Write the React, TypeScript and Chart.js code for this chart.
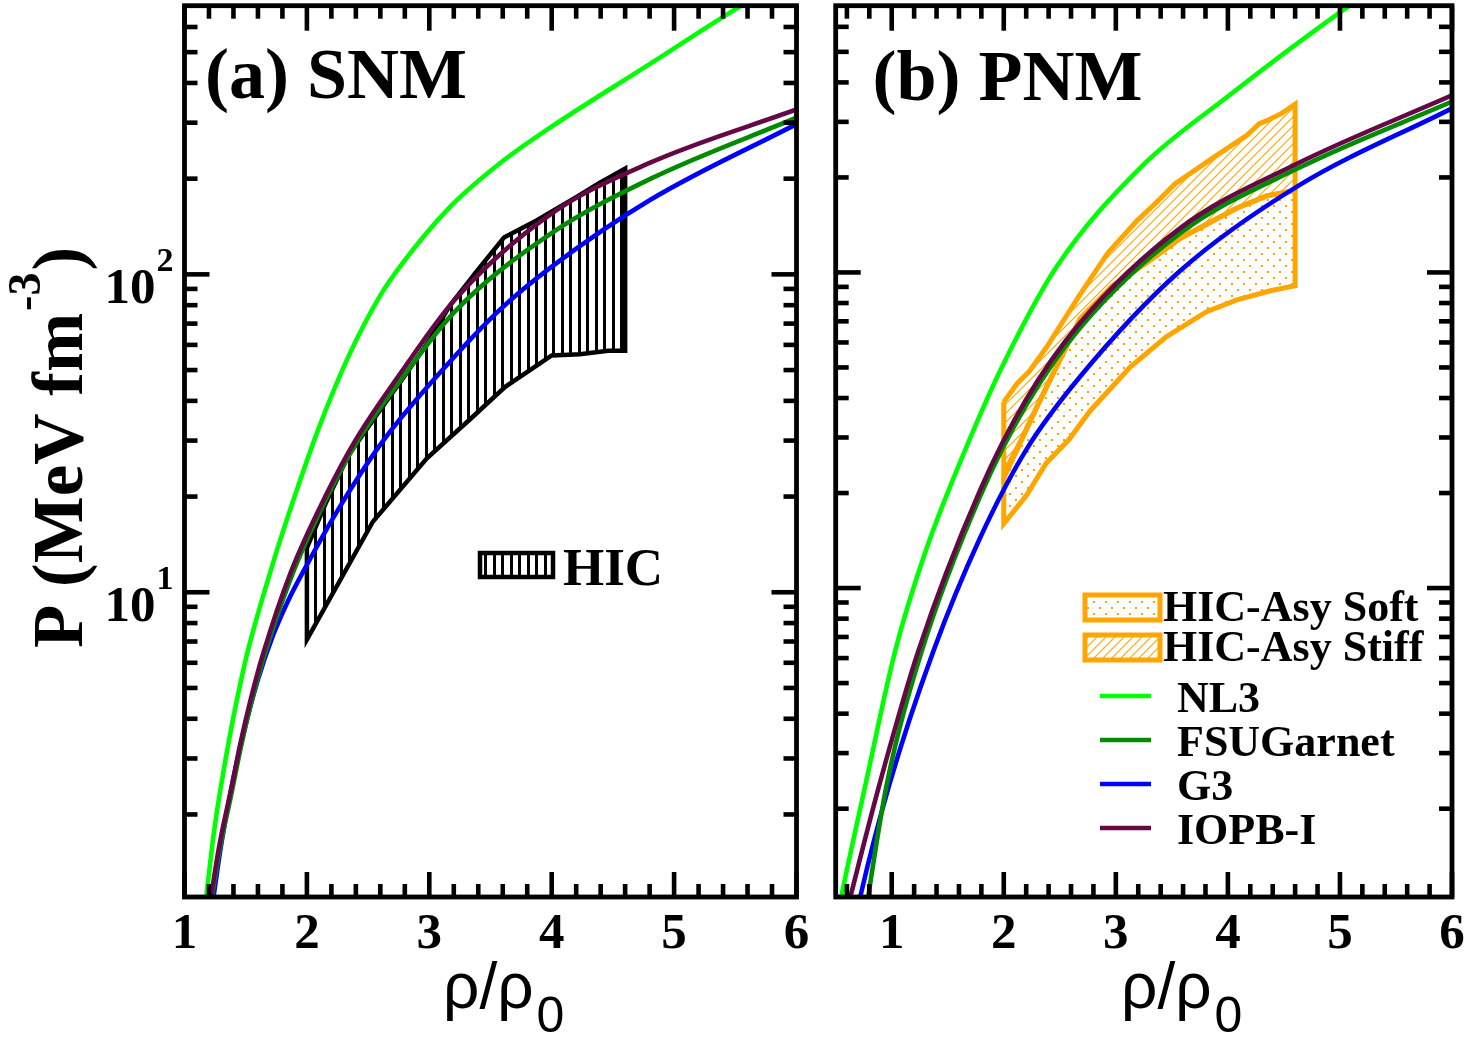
import React, { useEffect, useRef } from 'react';
import { Chart, registerables } from 'chart.js';

Chart.register(...registerables);

const SERIF = '"Liberation Serif", "Times New Roman", serif';
const SANS = '"Liberation Sans", Arial, sans-serif';

// ---------- axis ticks ----------
const densityTickLabels = [1, 2, 3, 4, 5, 6];
const pressureDecadeTicks = [10, 100];
const pressureDecadeExponents = ['1', '2'];

// ---------- (a) symmetric nuclear matter: P (MeV fm^-3) against rho/rho0 ----------
const nl3RhoSNM = [1.15, 1.18, 1.24, 1.29, 1.38, 1.46, 1.52, 1.73, 1.89, 2.09, 2.34, 2.6, 2.77, 3.17, 3.58, 3.99, 4.81, 5.57, 6.0];
const nl3PSNM = [0.9, 1.12, 1.75, 2.35, 3.7, 5.24, 6.6, 12.6, 19.5, 32.3, 55.2, 85.9, 107, 163, 224, 290, 461, 708, 880];

const fsuRhoSNM = [1.19, 1.22, 1.29, 1.38, 1.46, 1.54, 1.64, 1.87, 2.15, 2.4, 2.77, 3.21, 3.99, 4.81, 6.0];
const fsuPSNM = [0.89, 1.07, 1.57, 2.29, 3.25, 4.41, 6.11, 11.1, 19.4, 29.3, 46.7, 76.5, 134, 200, 311];

const g3RhoSNM = [1.2, 1.24, 1.3, 1.38, 1.48, 1.6, 1.72, 1.84, 1.99, 2.27, 2.63, 3.17, 3.58, 3.99, 4.81, 6.0];
const g3PSNM = [0.86, 1.12, 1.61, 2.39, 3.57, 5.31, 7.26, 9.29, 12.0, 18.6, 30.2, 53.2, 77.6, 105, 172, 297];

const iopbRhoSNM = [1.19, 1.22, 1.29, 1.38, 1.46, 1.54, 1.64, 1.87, 2.15, 2.4, 2.77, 3.21, 3.99, 4.81, 6.0];
const iopbPSNM = [0.93, 1.12, 1.64, 2.39, 3.39, 4.59, 6.36, 11.6, 20.0, 30.2, 49.2, 83.4, 154.5, 225, 330];

// heavy-ion flow band, upper and lower edges
const hicUpperRho = [2.0, 2.15, 2.34, 2.6, 2.8, 3.0, 3.17, 3.38, 3.61, 3.88, 4.2, 4.39, 4.6];
const hicUpperP = [13.8, 18.9, 27, 37.5, 48, 62, 80, 101.5, 130.5, 148, 175, 194, 215];
const hicLowerRho = [2.0, 2.54, 2.98, 3.34, 3.62, 4.0, 4.23, 4.46, 4.6];
const hicLowerP = [7.1, 16.7, 26.4, 35.2, 44.3, 55.6, 56.1, 57.5, 57.5];

// ---------- (b) pure neutron matter ----------
const nl3RhoPNM = [0.5, 0.547, 0.77, 1.03, 1.3, 1.66, 1.97, 2.47, 3.22, 3.99, 5.09, 6.0];
const nl3PPNM = [0.85, 1.04, 2.42, 6.3, 13, 27.6, 49, 104, 215, 359, 703, 1160];

const fsuRhoPNM = [0.72, 0.788, 0.955, 1.267, 1.788, 2.2, 2.68, 3.572, 4.616, 6.0];
const fsuPPNM = [0.7, 1.04, 2.38, 6.3, 19.5, 38, 66.7, 133, 213, 348];

const g3RhoPNM = [0.65, 0.716, 0.978, 1.371, 1.788, 2.2, 2.68, 3.572, 4.616, 6.0];
const g3PPNM = [0.8, 1.04, 2.38, 6.3, 14.4, 27.4, 46.7, 101, 187, 331];

const iopbRhoPNM = [0.55, 0.628, 0.895, 1.236, 1.788, 2.2, 2.68, 3.572, 4.616, 6.0];
const iopbPPNM = [0.8, 1.04, 2.42, 6.3, 20.4, 39.6, 69.2, 138, 221, 364];

// asy-stiff band
const stiffUpperRho = [2.0, 2.12, 2.23, 2.39, 2.55, 2.68, 2.93, 3.19, 3.35, 3.53, 3.87, 4.17, 4.28, 4.35, 4.48, 4.6];
const stiffUpperP = [38.9, 44.5, 48.7, 58.5, 72, 85, 115.5, 146, 165, 191, 231, 272, 296, 303, 319, 341];
const stiffLowerRho = [2.0, 2.15, 2.32, 2.53, 2.68, 2.97, 3.33, 3.57, 3.87, 4.08, 4.35, 4.6];
const stiffLowerP = [23.0, 29.2, 39.2, 55.6, 71.3, 90.7, 111, 128, 146, 160, 175, 182];
// asy-soft band
const softUpperRho = [2.0, 2.15, 2.32, 2.53, 2.68, 2.97, 3.33, 3.57, 3.87, 4.08, 4.35, 4.6];
const softUpperP = [22.3, 29.0, 39.0, 55.4, 71.1, 90.5, 110.8, 127.8, 145.8, 159.8, 174.8, 181.8];
const softLowerRho = [2.0, 2.2, 2.38, 2.58, 2.77, 3.13, 3.45, 3.81, 4.08, 4.38, 4.6];
const softLowerP = [16.0, 19.6, 24.9, 29.5, 36.4, 50.2, 62.5, 75.1, 81.9, 87.5, 90.7];

const NL3_COLOR = '#00ff00';
const FSU_COLOR = '#008b00';
const G3_COLOR = '#0000ff';
const IOPB_COLOR = '#640846';
const ORANGE = '#ffa500';

type Pt = { x: number; y: number };
const toPoints = (rho: number[], p: number[]): Pt[] => rho.map((r, i) => ({ x: r, y: p[i] }));
const closedBand = (uR: number[], uP: number[], lR: number[], lP: number[]): Pt[] => {
  const up = toPoints(uR, uP);
  const lo = toPoints(lR, lP).reverse();
  return [...up, ...lo, up[0]];
};

function tile(w: number, h: number, paint: (g: CanvasRenderingContext2D) => void) {
  const c = document.createElement('canvas');
  c.width = w;
  c.height = h;
  paint(c.getContext('2d') as CanvasRenderingContext2D);
  return c;
}
function verticalHatch(ctx: CanvasRenderingContext2D, color: string) {
  const c = tile(17, 4, (g) => {
    g.fillStyle = color;
    g.fillRect(0, 0, 3, 4);
    g.fillRect(8, 0, 3, 4);
  });
  return ctx.createPattern(c, 'repeat') as CanvasPattern;
}
function diagonalHatch(ctx: CanvasRenderingContext2D, color: string) {
  const s = 9;
  const c = tile(s, s, (g) => {
    g.strokeStyle = color;
    g.lineWidth = 1.1;
    g.beginPath();
    g.moveTo(0, s);
    g.lineTo(s, 0);
    g.moveTo(-2, 2);
    g.lineTo(2, -2);
    g.moveTo(s - 2, s + 2);
    g.lineTo(s + 2, s - 2);
    g.stroke();
  });
  return ctx.createPattern(c, 'repeat') as CanvasPattern;
}
function dotGrid(ctx: CanvasRenderingContext2D, color: string) {
  const c = tile(12, 12, (g) => {
    g.fillStyle = color;
    g.fillRect(1, 1, 2, 2);
    g.fillRect(7, 7, 2, 2);
  });
  return ctx.createPattern(c, 'repeat') as CanvasPattern;
}

const curve = (label: string, rho: number[], p: number[], color: string) => ({
  label,
  data: toPoints(rho, p),
  borderColor: color,
  backgroundColor: color,
  borderWidth: 4.6,
  pointRadius: 0,
  fill: false,
  cubicInterpolationMode: 'monotone' as const,
});
const band = (label: string, data: Pt[], color: string, pattern: CanvasPattern, width: number) => ({
  label,
  data,
  borderColor: color,
  backgroundColor: pattern,
  borderWidth: width,
  pointRadius: 0,
  fill: 'shape' as const,
  tension: 0,
  borderJoinStyle: 'miter' as const,
});

type Deco = {
  xMin: number;
  xMax: number;
  tag: string;
  tagX: number;
  tagY: number;
  yLabels: boolean;
  titleX: number;
  legend: 'snm' | 'pnm';
  patterns: Record<string, CanvasPattern>;
};

function minorX(min: number, max: number) {
  const out: number[] = [];
  for (let k = Math.ceil(min / 0.2 - 1e-9); k * 0.2 < max - 1e-9; k++) {
    const v = k * 0.2;
    if (v > min + 1e-9 && Math.abs(v - Math.round(v)) > 1e-6) out.push(v);
  }
  return out;
}
function minorY(min: number, max: number) {
  const out: number[] = [];
  for (const d of [1, 10, 100]) for (let m = 2; m <= 9; m++) if (m * d > min && m * d < max) out.push(m * d);
  return out;
}

function makeDeco(cfg: Deco) {
  return {
    id: 'deco',
    afterDraw(chart: any) {
      const ctx: CanvasRenderingContext2D = chart.ctx;
      const a = chart.chartArea;
      const xs = chart.scales.x;
      const ys = chart.scales.y;
      const seg = (x1: number, y1: number, x2: number, y2: number) => {
        ctx.beginPath();
        ctx.moveTo(x1, y1);
        ctx.lineTo(x2, y2);
        ctx.stroke();
      };
      ctx.save();
      ctx.strokeStyle = '#000';
      ctx.fillStyle = '#000';
      ctx.lineCap = 'butt';
      ctx.lineWidth = 4.6;
      const MAJ = 25;
      const MIN = 13;
      const xMajor = densityTickLabels.filter((v) => v >= cfg.xMin && v <= cfg.xMax);
      for (const v of xMajor) {
        const p = xs.getPixelForValue(v);
        seg(p, a.bottom, p, a.bottom - MAJ);
        seg(p, a.top, p, a.top + MAJ);
      }
      for (const v of minorX(cfg.xMin, cfg.xMax)) {
        const p = xs.getPixelForValue(v);
        seg(p, a.bottom, p, a.bottom - MIN);
        seg(p, a.top, p, a.top + MIN);
      }
      for (const v of pressureDecadeTicks) {
        const p = ys.getPixelForValue(v);
        seg(a.left, p, a.left + MAJ, p);
        seg(a.right, p, a.right - MAJ, p);
      }
      for (const v of minorY(ys.min, ys.max)) {
        const p = ys.getPixelForValue(v);
        seg(a.left, p, a.left + MIN, p);
        seg(a.right, p, a.right - MIN, p);
      }
      ctx.lineWidth = 4.8;
      ctx.lineJoin = 'miter';
      ctx.strokeRect(a.left, a.top, a.right - a.left, a.bottom - a.top);

      // density tick labels
      ctx.font = `bold 51px ${SERIF}`;
      ctx.textAlign = 'center';
      ctx.textBaseline = 'alphabetic';
      for (const v of xMajor) ctx.fillText(String(v), xs.getPixelForValue(v), 948);

      // pressure tick labels 10^n
      ctx.textAlign = 'left';
      if (cfg.yLabels) {
        pressureDecadeTicks.forEach((v, i) => {
          const p = ys.getPixelForValue(v);
          ctx.font = `bold 34px ${SERIF}`;
          const ws = ctx.measureText(pressureDecadeExponents[i]).width;
          ctx.font = `bold 51px ${SERIF}`;
          const wm = ctx.measureText('10').width;
          const right = a.left - 11;
          ctx.fillText('10', right - ws - wm - 1, p + 29);
          ctx.font = `bold 34px ${SERIF}`;
          ctx.fillText(pressureDecadeExponents[i], right - ws, p - 3);
        });
        // y title
        ctx.save();
        ctx.translate(82, 648);
        ctx.rotate(-Math.PI / 2);
        ctx.font = `bold 71px ${SERIF}`;
        const main = 'P (MeV fm';
        ctx.fillText(main, 0, 0);
        let cx = ctx.measureText(main).width + 2;
        ctx.font = `bold 46px ${SERIF}`;
        ctx.fillText('-3', cx, -42);
        cx += ctx.measureText('-3').width + 2;
        ctx.font = `bold 71px ${SERIF}`;
        ctx.fillText(')', cx, 0);
        ctx.restore();
      }

      // x title rho/rho0
      ctx.font = `64px ${SANS}`;
      ctx.fillText('ρ/ρ', cfg.titleX, 1008);
      const wr = ctx.measureText('ρ/ρ').width;
      ctx.font = `50px ${SANS}`;
      ctx.fillText('0', cfg.titleX + wr + 3, 1032);

      // panel tag
      ctx.font = `bold 72px ${SERIF}`;
      ctx.fillText(cfg.tag, cfg.tagX, cfg.tagY);

      const sets = chart.data.datasets as any[];
      const byLabel = (l: string) => sets.find((d) => d.label === l);
      if (cfg.legend === 'snm') {
        const hic = byLabel('HIC');
        ctx.fillStyle = cfg.patterns.hic;
        ctx.fillRect(480, 553, 73, 24);
        ctx.strokeStyle = hic.borderColor;
        ctx.lineWidth = 4.5;
        ctx.strokeRect(480, 553, 73, 24);
        ctx.fillStyle = '#000';
        ctx.font = `bold 53px ${SERIF}`;
        ctx.fillText(hic.label, 563, 585);
      } else {
        const boxes = [
          { label: 'HIC-Asy Soft', pat: cfg.patterns.soft, y: 595 },
          { label: 'HIC-Asy Stiff', pat: cfg.patterns.stiff, y: 635 },
        ];
        ctx.font = `bold 44px ${SERIF}`;
        for (const b of boxes) {
          const ds = byLabel(b.label);
          ctx.fillStyle = '#fff';
          ctx.fillRect(269, b.y, 75, 25);
          ctx.fillStyle = b.pat;
          ctx.fillRect(269, b.y, 75, 25);
          ctx.strokeStyle = ds.borderColor;
          ctx.lineWidth = 5;
          ctx.strokeRect(269, b.y, 75, 25);
          ctx.fillStyle = '#000';
          ctx.fillText(ds.label, 347, b.y + 26);
        }
        ['NL3', 'FSUGarnet', 'G3', 'IOPB-I'].forEach((l, i) => {
          const ds = byLabel(l);
          const y = 696 + 44 * i;
          ctx.strokeStyle = ds.borderColor;
          ctx.lineWidth = 4.5;
          seg(284, y, 335, y);
          ctx.fillStyle = '#000';
          ctx.fillText(ds.label, 361, y + 16);
        });
      }
      ctx.restore();
    },
  };
}

function baseOptions(pad: any, xMin: number, xMax: number, yMin: number, yMax: number) {
  return {
    animation: false as const,
    responsive: false,
    devicePixelRatio: 1,
    events: [] as any[],
    layout: { padding: pad },
    scales: {
      x: { type: 'linear' as const, min: xMin, max: xMax, display: false },
      y: { type: 'logarithmic' as const, min: yMin, max: yMax, display: false },
    },
    plugins: { legend: { display: false }, tooltip: { enabled: false } },
  };
}

export default function App() {
  const leftRef = useRef<HTMLCanvasElement>(null);
  const rightRef = useRef<HTMLCanvasElement>(null);

  useEffect(() => {
    const lc = leftRef.current!;
    const rc = rightRef.current!;
    const lctx = lc.getContext('2d') as CanvasRenderingContext2D;
    const rctx = rc.getContext('2d') as CanvasRenderingContext2D;

    const hicPat = verticalHatch(lctx, '#000');
    const softPat = dotGrid(rctx, ORANGE);
    const stiffPat = diagonalHatch(rctx, ORANGE);

    const left = new Chart(lc, {
      type: 'line',
      data: {
        datasets: [
          curve('IOPB-I', iopbRhoSNM, iopbPSNM, IOPB_COLOR),
          curve('FSUGarnet', fsuRhoSNM, fsuPSNM, FSU_COLOR),
          curve('G3', g3RhoSNM, g3PSNM, G3_COLOR),
          curve('NL3', nl3RhoSNM, nl3PSNM, NL3_COLOR),
          band('HIC', closedBand(hicUpperRho, hicUpperP, hicLowerRho, hicLowerP), '#000', hicPat, 4.5),
        ] as any,
      },
      options: baseOptions({ left: 184.5, right: 19.5, top: 5.7, bottom: 145 }, 1, 6, 1.1, 700) as any,
      plugins: [
        makeDeco({
          xMin: 1,
          xMax: 6,
          tag: '(a) SNM',
          tagX: 205,
          tagY: 98,
          yLabels: true,
          titleX: 443,
          legend: 'snm',
          patterns: { hic: hicPat },
        }),
      ],
    });

    const right = new Chart(rc, {
      type: 'line',
      data: {
        datasets: [
          curve('IOPB-I', iopbRhoPNM, iopbPPNM, IOPB_COLOR),
          curve('FSUGarnet', fsuRhoPNM, fsuPPNM, FSU_COLOR),
          curve('G3', g3RhoPNM, g3PPNM, G3_COLOR),
          curve('NL3', nl3RhoPNM, nl3PPNM, NL3_COLOR),
          band('HIC-Asy Stiff', closedBand(stiffUpperRho, stiffUpperP, stiffLowerRho, stiffLowerP), ORANGE, stiffPat, 5),
          band('HIC-Asy Soft', closedBand(softUpperRho, softUpperP, softLowerRho, softLowerP), ORANGE, softPat, 5),
        ] as any,
      },
      options: baseOptions({ left: 19.7, right: 17, top: 5.7, bottom: 145 }, 0.5, 6, 1.05, 700) as any,
      plugins: [
        makeDeco({
          xMin: 0.5,
          xMax: 6,
          tag: '(b) PNM',
          tagX: 56.5,
          tagY: 100,
          yLabels: false,
          titleX: 305,
          legend: 'pnm',
          patterns: { soft: softPat, stiff: stiffPat },
        }),
      ],
    });

    return () => {
      left.destroy();
      right.destroy();
    };
  }, []);

  return (
    <div style={{ position: 'absolute', left: 0, top: 0, width: 1469, height: 1042, background: '#fff', overflow: 'hidden' }}>
      <canvas ref={leftRef} width={816} height={1042} style={{ position: 'absolute', left: 0, top: 0, width: 816, height: 1042 }} />
      <canvas ref={rightRef} width={653} height={1042} style={{ position: 'absolute', left: 816, top: 0, width: 653, height: 1042 }} />
    </div>
  );
}
